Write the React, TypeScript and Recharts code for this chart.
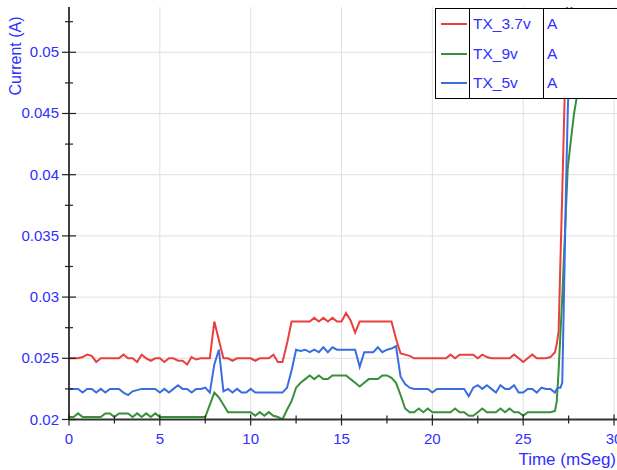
import { LineChart, Line, XAxis, YAxis, ReferenceLine, Legend } from "recharts";

const BLUE_TEXT = "#2f2fff";

// sample times (ms)
const time = [
  0, 0.25, 0.5, 0.75, 1, 1.25, 1.5, 1.75, 2, 2.25, 2.5, 2.75, 3, 3.25, 3.5, 3.75,
  4, 4.25, 4.5, 4.75, 5, 5.25, 5.5, 5.75, 6, 6.25, 6.5, 6.75, 7, 7.25, 7.5, 7.75,
  8, 8.25, 8.5, 8.75, 9, 9.25, 9.5, 9.75, 10, 10.25, 10.5, 10.75, 11, 11.25, 11.5, 11.75,
  12, 12.25, 12.5, 12.75, 13, 13.25, 13.5, 13.75, 14, 14.25, 14.5, 14.75, 15, 15.25, 15.5, 15.75,
  16, 16.25, 16.5, 16.75, 17, 17.25, 17.5, 17.75, 18, 18.25, 18.5, 18.75, 19, 19.25, 19.5, 19.75,
  20, 20.25, 20.5, 20.75, 21, 21.25, 21.5, 21.75, 22, 22.25, 22.5, 22.75, 23, 23.25, 23.5, 23.75,
  24, 24.25, 24.5, 24.75, 25, 25.25, 25.5, 25.75, 26, 26.25, 26.5, 26.75,
  26.85, 26.95, 27.05, 27.15, 27.25, 27.35, 27.45, 27.6, 27.8, 28, 28.5,
];

const tx37v = [
  0.025, 0.025, 0.025, 0.0251, 0.0253, 0.0252, 0.0247, 0.025, 0.025, 0.025, 0.025, 0.025, 0.0253, 0.025, 0.025, 0.0247,
  0.0253, 0.025, 0.0248, 0.025, 0.025, 0.0247, 0.025, 0.025, 0.0248, 0.0248, 0.0245, 0.0251, 0.0249, 0.025, 0.025, 0.025,
  0.028, 0.0265, 0.025, 0.025, 0.0248, 0.025, 0.025, 0.025, 0.025, 0.0248, 0.025, 0.025, 0.025, 0.0253, 0.0247, 0.0247,
  0.0262, 0.028, 0.028, 0.028, 0.028, 0.028, 0.0283, 0.028, 0.0283, 0.028, 0.0283, 0.028, 0.028, 0.0287, 0.0281, 0.0271,
  0.028, 0.028, 0.028, 0.028, 0.028, 0.028, 0.028, 0.028, 0.0266, 0.0254, 0.0253, 0.0252, 0.025, 0.025, 0.025, 0.025,
  0.025, 0.025, 0.025, 0.025, 0.0253, 0.025, 0.0253, 0.0253, 0.0253, 0.0253, 0.025, 0.0253, 0.0251, 0.025, 0.025, 0.025,
  0.025, 0.025, 0.0253, 0.025, 0.0247, 0.025, 0.0253, 0.025, 0.025, 0.025, 0.0251, 0.0255,
  0.0262, 0.0272, 0.033, 0.0385, 0.0445, 0.05, 0.0555, 0.06, 0.06, 0.06, 0.06,
];

const tx9v = [
  0.0202, 0.0202, 0.0205, 0.0202, 0.0202, 0.0202, 0.0202, 0.0202, 0.0205, 0.0205, 0.0202, 0.0205, 0.0205, 0.0205, 0.0202, 0.0205,
  0.0202, 0.0205, 0.0202, 0.0205, 0.0202, 0.0202, 0.0202, 0.0202, 0.0202, 0.0202, 0.0202, 0.0202, 0.0202, 0.0202, 0.0202, 0.0212,
  0.0222, 0.0218, 0.0212, 0.0206, 0.0206, 0.0206, 0.0206, 0.0206, 0.0206, 0.0203, 0.0206, 0.0203, 0.0206, 0.0203, 0.0202, 0.02,
  0.0208, 0.0215, 0.0226, 0.023, 0.0233, 0.0236, 0.0233, 0.0236, 0.0233, 0.0233, 0.0236, 0.0236, 0.0236, 0.0236, 0.0233, 0.023,
  0.0227, 0.023, 0.0233, 0.0233, 0.0233, 0.0236, 0.0236, 0.0234, 0.023, 0.022, 0.0209, 0.0206, 0.0206, 0.0209, 0.0206, 0.0209,
  0.0206, 0.0206, 0.0206, 0.0206, 0.0206, 0.0209, 0.0206, 0.0206, 0.0203, 0.0203, 0.0206, 0.0209, 0.0206, 0.0206, 0.0206, 0.0209,
  0.0206, 0.0209, 0.0206, 0.0206, 0.0203, 0.0206, 0.0206, 0.0206, 0.0206, 0.0206, 0.0206, 0.0207,
  0.0215, 0.024, 0.027, 0.03, 0.0335, 0.037, 0.0405, 0.0425, 0.045, 0.0468, 0.052,
];

const tx5v = [
  0.0225, 0.0225, 0.0225, 0.0222, 0.0225, 0.0225, 0.0222, 0.0225, 0.0222, 0.0225, 0.0225, 0.0225, 0.0222, 0.022, 0.0223, 0.0224,
  0.0225, 0.0225, 0.0225, 0.0225, 0.0222, 0.0225, 0.0222, 0.0225, 0.0228, 0.0225, 0.0225, 0.0222, 0.0225, 0.0225, 0.0226, 0.0222,
  0.0245, 0.0257, 0.0223, 0.0225, 0.0222, 0.0225, 0.0222, 0.0222, 0.0225, 0.0222, 0.0222, 0.0222, 0.0222, 0.0222, 0.0222, 0.0222,
  0.0226, 0.024, 0.0257, 0.0256, 0.0257, 0.0255, 0.0257, 0.0255, 0.0259, 0.0255, 0.0259, 0.0257, 0.0257, 0.0257, 0.0257, 0.0257,
  0.0243, 0.0255, 0.0255, 0.0255, 0.0259, 0.0255, 0.0257, 0.0258, 0.026, 0.0235, 0.0229, 0.0226, 0.0225, 0.0225, 0.0225, 0.0225,
  0.0222, 0.0225, 0.0225, 0.0225, 0.0225, 0.0225, 0.0225, 0.0225, 0.0219, 0.0226, 0.0228, 0.0225, 0.0228, 0.0225, 0.0222, 0.0228,
  0.0225, 0.0225, 0.0228, 0.0222, 0.0222, 0.0225, 0.0225, 0.0222, 0.0226, 0.0225, 0.0225, 0.0222,
  0.0225, 0.0226, 0.0226, 0.023, 0.0305, 0.0385, 0.045, 0.052, 0.058, 0.06, 0.06,
];

const seriesOrder = ["TX_3.7v", "TX_9v", "TX_5v"];
const xTicks = [0, 2.5, 5, 7.5, 10, 12.5, 15, 17.5, 20, 22.5, 25, 27.5, 30];
const xGrid = [5, 10, 15, 20, 25, 30];
const yTicks = [0.02, 0.0225, 0.025, 0.0275, 0.03, 0.0325, 0.035, 0.0375, 0.04, 0.0425, 0.045, 0.0475, 0.05, 0.0525];
const yGrid = [0.025, 0.03, 0.035, 0.04, 0.045, 0.05];

const data = time.map((t, i) => ({ t, tx37v: tx37v[i], tx9v: tx9v[i], tx5v: tx5v[i] }));

const XTick = ({ x, y, payload }: any) => {
  const major = Math.round(payload.value * 10) % 50 === 0;
  return (
    <g>
      <line x1={x} x2={x} y1={y - (major ? 5 : 4)} y2={y + (major ? 6 : 4)} stroke="#222" strokeWidth={1.2} />
      {major && (
        <text x={x} y={y + 24} textAnchor="middle" fill={BLUE_TEXT} fontSize={15}>
          {payload.value}
        </text>
      )}
    </g>
  );
};

const YTick = ({ x, y, payload }: any) => {
  const major = Math.round(payload.value * 10000) % 50 === 0;
  return (
    <g>
      <line x1={x - (major ? 7 : 4)} x2={x + (major ? 7 : 4)} y1={y} y2={y} stroke="#222" strokeWidth={1.2} />
      {major && (
        <text x={x - 10} y={y + 5} textAnchor="end" fill={BLUE_TEXT} fontSize={15}>
          {String(Math.round(payload.value * 10000) / 10000)}
        </text>
      )}
    </g>
  );
};

const YTitle = () => (
  <text transform="translate(21,56) rotate(-90)" textAnchor="middle" fill={BLUE_TEXT} fontSize={16}>
    Current (A)
  </text>
);

const XTitle = () => (
  <text x={616} y={465} textAnchor="end" fill={BLUE_TEXT} fontSize={17}>
    Time (mSeg)
  </text>
);

const LegendTable = ({ payload }: any) => (
  <table
    style={{
      borderCollapse: "collapse",
      background: "#fff",
      border: "1px solid #000",
      fontFamily: "'Liberation Sans', Arial, sans-serif",
      fontSize: 15.5,
      color: BLUE_TEXT,
    }}
  >
    <tbody>
      {(payload || []).map((p: any, i: number) => (
        <tr key={i} style={{ height: 30 }}>
          <td style={{ width: 28, borderRight: "1px solid #000", padding: "0 0 0 5px" }}>
            <div style={{ width: 26, height: 2, background: p.color }} />
          </td>
          <td style={{ width: 70, borderRight: "1px solid #000", padding: "0 0 0 3px" }}>{p.value}</td>
          <td style={{ width: 90, padding: "0 0 0 3px" }}>A</td>
        </tr>
      ))}
    </tbody>
  </table>
);

export default function App() {
  return (
    <div style={{ position: "absolute", left: 0, top: 0, width: 617, height: 470, overflow: "hidden", background: "#fff" }}>
      <LineChart
        width={660}
        height={470}
        data={data}
        margin={{ top: 7, right: 27.8, bottom: 20.5, left: 9 }}
        style={{ fontFamily: "'Liberation Sans', Arial, sans-serif" }}
      >
        <XAxis
          dataKey="t"
          type="number"
          domain={[0, 31]}
          ticks={xTicks}
          interval={0}
          tick={<XTick />}
          tickLine={false}
          tickSize={0}
          tickMargin={0}
          height={30}
          axisLine={{ stroke: "#333", strokeWidth: 2 }}
          label={<XTitle />}
        />
        <XAxis xAxisId="top" orientation="top" type="number" domain={[0, 31]} height={0} tick={false} tickLine={false} axisLine={{ stroke: "#000" }} />
        <YAxis
          type="number"
          domain={[0.02, 0.0537]}
          allowDataOverflow
          ticks={yTicks}
          interval={0}
          tick={<YTick />}
          tickLine={false}
          tickSize={0}
          tickMargin={0}
          width={60}
          axisLine={{ stroke: "#000", strokeWidth: 1.5 }}
          label={<YTitle />}
        />
        {xGrid.map((v) => (
          <ReferenceLine key={"x" + v} x={v} stroke="#e0e0e0" />
        ))}
        {yGrid.map((v) => (
          <ReferenceLine key={"y" + v} y={v} stroke="#e0e0e0" />
        ))}
        <Line dataKey="tx37v" name="TX_3.7v" stroke="#e8403f" strokeWidth={2} dot={false} isAnimationActive={false} />
        <Line dataKey="tx9v" name="TX_9v" stroke="#37903a" strokeWidth={2} dot={false} isAnimationActive={false} />
        <Line dataKey="tx5v" name="TX_5v" stroke="#3a6ee0" strokeWidth={2} dot={false} isAnimationActive={false} />
        <Legend
          layout="vertical"
          align="center"
          verticalAlign="middle"
          itemSorter={(item: any) => seriesOrder.indexOf(item.value)}
          content={<LegendTable />}
          wrapperStyle={{ left: 435, top: 8, width: 220 }}
        />
      </LineChart>
    </div>
  );
}
